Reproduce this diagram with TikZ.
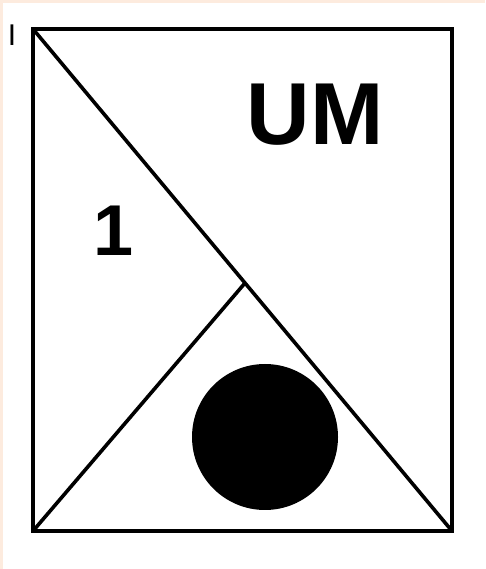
\documentclass[tikz,border=0pt]{standalone}
\usepackage{fontspec}
\setmainfont{Liberation Sans}
\definecolor{peach}{RGB}{253,235,222}
\begin{document}
\begin{tikzpicture}[x=1pt,y=1pt,
  frame/.style={line width=3.6pt,line join=miter},
  edge/.style={line width=3.6pt},
  bigtxt/.style={font=\bfseries\fontsize{88}{88}\selectfont,inner sep=0pt},
  numtxt/.style={font=\bfseries\fontsize{72}{72}\selectfont,inner sep=0pt}]
\fill[peach] (0,0) rectangle (485,569);
\fill[white] (3,0) rectangle (485,566);
\useasboundingbox (0,0) rectangle (485,569);
\coordinate (tl) at (33,540);
\coordinate (tr) at (452,540);
\coordinate (bl) at (33,38);
\coordinate (br) at (452,38);
\coordinate (mid) at (245,286);
\draw[frame] (tl) rectangle (br);
\draw[edge] (tl) -- (br);
\draw[edge] (bl) -- (mid);
\fill (265,132) circle (73);
\node[bigtxt] (um) at (315,454) {UM};
\node[numtxt] (one) at (114,338) {1};
\node[font=\fontsize{30}{30}\selectfont,inner sep=0pt] (i) at (12,534) {I};
\end{tikzpicture}
\end{document}
